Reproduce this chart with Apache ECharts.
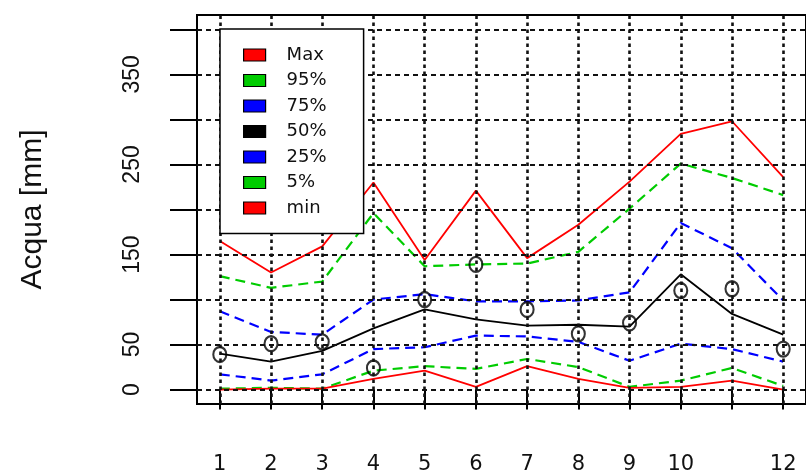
<!DOCTYPE html>
<html>
<head>
<meta charset="utf-8">
<script src="https://cdn.jsdelivr.net/npm/echarts@6/dist/echarts.min.js"></script>
<style>
  html, body { margin: 0; padding: 0; background: #fff; }
  #chart { width: 806px; height: 475px; }
</style>
</head>
<body>
<div id="chart"></div>
<script>
// ---- data ----
const months = [1, 2, 3, 4, 5, 6, 7, 8, 9, 10, 11, 12];
const xTickLabels = ['1', '2', '3', '4', '5', '6', '7', '8', '9', '10', '', '12'];
const yTicks = [0, 50, 100, 150, 200, 250, 300, 350, 400];
const yTickLabels = ['0', '50', '', '150', '', '250', '', '350', ''];
const seriesNames = ['Max', '95%', '75%', '50%', '25%', '5%', 'min'];
const maxVals = [165, 130, 159, 230, 144, 221, 146, 183, 231, 284, 298, 236];
const p95Vals = [126, 113, 120, 196, 137, 139, 140, 153, 201, 251, 235, 216];
const p75Vals = [87, 64, 61, 100, 106, 98, 98, 99, 108, 185, 157, 99];
const p50Vals = [40, 31, 43, 68, 89, 78, 71, 72, 70, 128, 84, 61];
const p25Vals = [17, 10, 17, 45, 47, 60, 59, 53, 32, 51, 45, 31];
const p5Vals = [1, 2, 1, 21, 26, 23, 34, 25, 3, 10, 24, 4];
const minVals = [0, 1, 1, 12, 21, 3, 26, 12, 2, 3, 10, 0];
const obsVals = [39, 51, 53, 24, 100, 139, 89, 62, 74, 110, 112, 45];

// ---- build ----
const valueSets = [maxVals, p95Vals, p75Vals, p50Vals, p25Vals, p5Vals, minVals];
const colors = ['#ff0000', '#00cc00', '#0000ff', '#000000', '#0000ff', '#00cc00', '#ff0000'];
const dashed = [false, true, true, false, true, true, false];

const pairs = arr => months.map((m, i) => [m, arr[i]]);

const lineSeries = seriesNames.map((name, k) => ({
  name: name,
  type: 'line',
  data: pairs(valueSets[k]),
  symbol: 'none',
  z: 3,
  color: colors[k],
  itemStyle: { color: colors[k] },
  lineStyle: {
    color: colors[k],
    width: dashed[k] ? 2.2 : 1.8,
    type: dashed[k] ? [10, 6] : 'solid'
  }
}));

const gridLineData = [
  ...yTicks.map(v => ({ yAxis: v, lineStyle: { color: '#111', width: 2, type: [5, 4] } })),
  ...months.map(v => ({ xAxis: v, lineStyle: { color: '#111', width: 2.6, type: [3.5, 3.5] } }))
];

const option = {
  animation: false,
  backgroundColor: '#fff',
  grid: {
    left: 197, top: 15, right: -5, bottom: 68,
    show: true, borderColor: '#000', borderWidth: 2, backgroundColor: 'transparent'
  },
  legend: {
    data: seriesNames,
    orient: 'vertical',
    left: 220, top: 29,
    padding: [17, 37, 16.5, 23],
    itemWidth: 22, itemHeight: 12, itemGap: 7.5,
    icon: 'rect',
    itemStyle: { borderColor: '#000', borderWidth: 1.2 },
    backgroundColor: '#fff', borderColor: '#000', borderWidth: 1.5,
    textStyle: { fontFamily: 'DejaVu Sans', fontSize: 18, color: '#111', lineHeight: 17, padding: [0, 0, 0, 16] },
    selectedMode: false,
    z: 10
  },
  xAxis: {
    type: 'value',
    min: 0.555, max: 12.445,
    axisLine: { show: false },
    splitLine: { show: false },
    axisTick: { show: true, customValues: months, length: 20, lineStyle: { color: '#000', width: 2 } },
    axisLabel: {
      customValues: months,
      formatter: v => xTickLabels[months.indexOf(v)] ?? '',
      margin: 50, fontSize: 21, fontFamily: 'DejaVu Sans', color: '#111'
    }
  },
  yAxis: {
    type: 'value',
    min: -16, max: 416,
    name: 'Acqua [mm]',
    nameLocation: 'middle',
    nameGap: 164,
    nameTextStyle: { fontFamily: 'Liberation Sans', fontSize: 30, color: '#111', verticalAlign: 'middle' },
    axisLine: { show: false },
    splitLine: { show: false },
    axisTick: { show: true, customValues: yTicks, length: 27, lineStyle: { color: '#000', width: 2 } },
    axisLabel: {
      customValues: yTicks,
      formatter: v => yTickLabels[yTicks.indexOf(v)] ?? '',
      rotate: 90, margin: 64, verticalAlign: 'middle',
      fontSize: 23, fontFamily: 'Liberation Sans', color: '#111'
    }
  },
  series: [
    {
      name: 'grid', type: 'line', data: [], z: 1,
      markLine: {
        silent: true, symbol: ['none', 'none'], animation: false,
        label: { show: false },
        emphasis: { disabled: true },
        data: gridLineData
      }
    },
    ...lineSeries,
    {
      name: 'obs', type: 'scatter', z: 4,
      data: pairs(obsVals),
      symbol: 'circle', symbolSize: [13, 15],
      itemStyle: { color: 'transparent', borderColor: '#000', borderWidth: 2.2 }
    }
  ]
};

const chart = echarts.init(document.getElementById('chart'), null, { renderer: 'canvas' });
chart.setOption(option);
</script>
</body>
</html>
